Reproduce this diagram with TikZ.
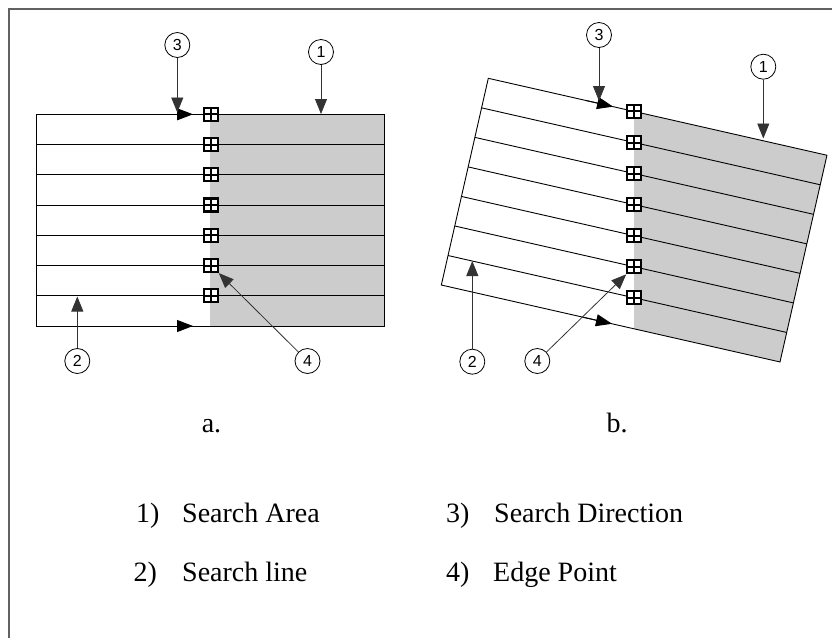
\documentclass[tikz,border=0pt]{standalone}
\usepackage{fontspec}
\setmainfont{Liberation Serif}
\newfontfamily\calloutfont{Liberation Sans}
\usetikzlibrary{arrows.meta}

\tikzset{
  frameline/.style={draw=black!62, line width=1.5pt},
  sline/.style={draw=black, line width=0.9pt},
  calloutc/.style={circle, draw=black, line width=0.8pt, minimum size=25pt, inner sep=0pt,
    font=\calloutfont\fontsize{16}{16}\selectfont, fill=white},
  ptr/.style={draw=black!80, line width=0.8pt, -{Triangle[length=15pt,width=12pt]}},
  dirarrow/.style={draw=black, line width=0.9pt, -{Triangle[length=16pt,width=12pt]}},
  edgept/.style={rectangle, draw=black, fill=white, line width=2.1pt, minimum width=14pt,
    minimum height=13pt, inner sep=0pt,
    path picture={\draw[line width=2pt] (path picture bounding box.north) -- (path picture bounding box.south)
      (path picture bounding box.west) -- (path picture bounding box.east);}},
  legendtxt/.style={anchor=base west, inner sep=0pt, font=\fontsize{28}{34}\selectfont},
}

\begin{document}
\begin{tikzpicture}[x=1pt,y=-1pt]
\useasboundingbox (0,0) rectangle (833,638);
\draw[frameline] (9,638) -- (9,9) -- (832,9);

% ---------- a. ----------
\fill[black!20] (210,114.3) rectangle (384,326);
\draw[sline] (36.7,114.3) rectangle (384,326);
\foreach \i in {1,...,6} \draw[sline] (36.7,114.3+30.24*\i) -- (384,114.3+30.24*\i);
\draw[dirarrow] (165,114.3) -- (193,114.3);
\draw[dirarrow] (165,326) -- (193,326);
\foreach \i in {0,...,6} \node[edgept] (ea\i) at (210.7,114.3+30.24*\i) {};

\node[calloutc] (ca3) at (177.3,45) {3};
\coordinate (ta3) at (177.3,112.5);
\draw[ptr] (ca3) -- (ta3);
\node[calloutc] (ca1) at (321,52) {1};
\coordinate (ta1) at (321,114);
\draw[ptr] (ca1) -- (ta1);
\node[calloutc] (ca2) at (77.3,361) {2};
\coordinate (ta2) at (77.3,296.5);
\draw[ptr] (ca2) -- (ta2);
\node[calloutc] (ca4) at (307.5,361) {4};
\draw[ptr] (ca4) -- (ea5.south east);

% ---------- b. ----------
\begin{scope}
\clip[shift={(488.3,78.3)}, rotate=-12.8] (0,0) rectangle (347.3,212);
\fill[black!20] (634,0) rectangle (840,400);
\end{scope}
\begin{scope}[shift={(488.3,78.3)}, rotate=-12.8]
  \draw[sline] (0,0) rectangle (347.3,212);
  \foreach \i in {1,...,6} \draw[sline] (0,30.29*\i) -- (347.3,30.29*\i);
  \foreach \i in {0,...,6} {\coordinate (la\i) at (0,30.29*\i); \coordinate (lb\i) at (347.3,30.29*\i);}
  \draw[dirarrow] (100,0) -- (128,0);
  \draw[dirarrow] (147,212) -- (175,212);
\end{scope}
\coordinate (v1) at (634.3,0);
\coordinate (v2) at (634.3,600);
\foreach \i in {0,...,6} \node[edgept] (eb\i) at (intersection cs: first line={(la\i)--(lb\i)}, second line={(v1)--(v2)}) {};

\node[calloutc] (cb3) at (599,35) {3};
\coordinate (tb3) at (599,101);
\draw[ptr] (cb3) -- (tb3);
\node[calloutc] (cb1) at (763.3,66.7) {1};
\coordinate (tb1) at (763.3,138.5);
\draw[ptr] (cb1) -- (tb1);
\node[calloutc] (cb2) at (472.3,361.7) {2};
\coordinate (tb2) at (472.3,261);
\draw[ptr] (cb2) -- (tb2);
\node[calloutc] (cb4) at (537.3,361) {4};
\draw[ptr] (cb4) -- (eb5.south west);

% ---------- captions and legend ----------
\node[legendtxt, anchor=base] (capa) at (211.5,432.7) {a.};
\node[legendtxt, anchor=base] (capb) at (617,432.7) {b.};
\node[legendtxt] (n1) at (136,522.7) {1)};
\node[legendtxt] (t1) at (182,522.7) {Search Area};
\node[legendtxt] (n2) at (133.5,581) {2)};
\node[legendtxt] (t2) at (182,581) {Search line};
\node[legendtxt] (n3) at (446,522.7) {3)};
\node[legendtxt] (t3) at (494,522.7) {Search Direction};
\node[legendtxt] (n4) at (446,581) {4)};
\node[legendtxt] (t4) at (493,581) {Edge Point};
\end{tikzpicture}
\end{document}
